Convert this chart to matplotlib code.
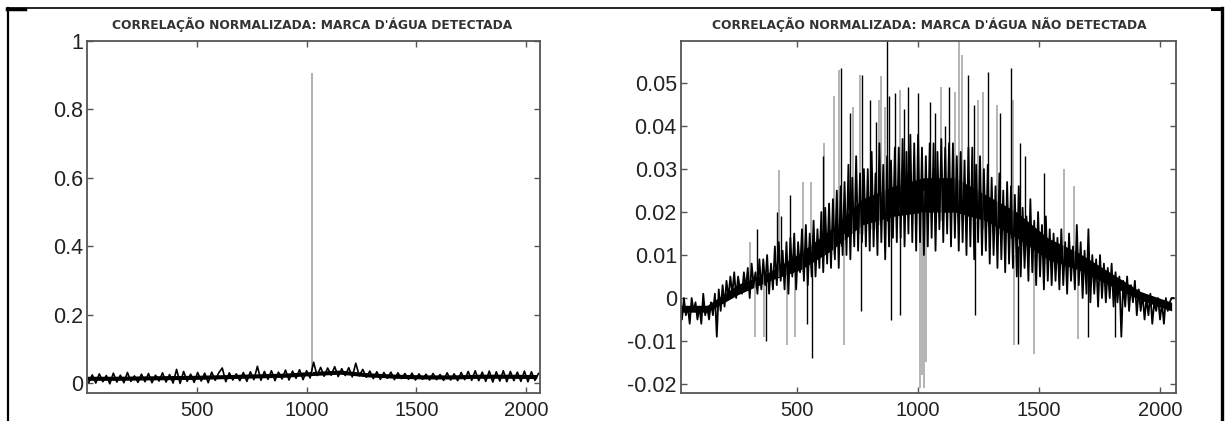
import numpy as np
import matplotlib
matplotlib.use("Agg")
import matplotlib.pyplot as plt
from matplotlib.lines import Line2D

# ---- data (sample index on x) ----
titles = ["CORRELAÇÃO NORMALIZADA: MARCA D'ÁGUA DETECTADA",
          "CORRELAÇÃO NORMALIZADA: MARCA D'ÁGUA NÃO DETECTADA"]

# left: correlation floor, one value every 16 samples starting at 8
left_start, left_step = 8, 16
left_values = [
    0.002, 0.024, 0.000, 0.027, 0.004, 0.022, -0.002, 0.029, 0.003, 0.023, 0.001, 0.031, 0.005, 0.021, 0.002, 0.026,
    0.004, 0.028, 0.001, 0.023, 0.006, 0.030, 0.003, 0.025, 0.000, 0.040, -0.001, 0.034, 0.005, 0.026, 0.002, 0.031,
    0.006, 0.029, 0.001, 0.032, 0.008, 0.030, 0.044, 0.004, 0.030, 0.009, 0.027, 0.007, 0.031, 0.005, 0.033, 0.010,
    0.049, 0.008, 0.034, 0.011, 0.036, 0.007, 0.032, 0.012, 0.038, 0.009, 0.035, 0.014, 0.039, 0.010, 0.036, 0.015,
    0.061, 0.022, 0.046, 0.020, 0.044, 0.023, 0.048, 0.019, 0.042, 0.022, 0.045, 0.018, 0.058, 0.021, 0.040, 0.017,
    0.035, 0.013, 0.033, 0.011, 0.031, 0.014, 0.032, 0.010, 0.030, 0.013, 0.028, 0.011, 0.029, 0.009, 0.027, 0.011,
    0.026, 0.009, 0.028, 0.010, 0.025, 0.008, 0.030, 0.009, 0.027, 0.007, 0.031, 0.010, 0.034, 0.008, 0.036, 0.007,
    0.032, 0.005, 0.035, 0.003, 0.033, 0.006, 0.036, 0.004, 0.034, 0.007, 0.032, 0.005, 0.035, 0.004, 0.033, 0.008,
    0.028,
]
# dense core of each trace, every 128 samples
core_x = [0, 128, 256, 384, 512, 640, 768, 896, 1024, 1152, 1280, 1408, 1536, 1664, 1792, 1920, 2048]
left_core_lo = [0.008, 0.008, 0.009, 0.010, 0.011, 0.013, 0.015, 0.017, 0.022, 0.026, 0.018, 0.014, 0.012, 0.012, 0.014, 0.014, 0.013]
left_core_hi = [0.020, 0.020, 0.021, 0.022, 0.023, 0.025, 0.027, 0.029, 0.034, 0.038, 0.030, 0.026, 0.024, 0.024, 0.026, 0.026, 0.025]
# the detection peak (drawn lighter, as in the scan)
left_peak_x = [1024]
left_peak_lo = [0.030]
left_peak_hi = [0.905]

# right: one value every 8 samples starting at 16
right_start, right_step = 16, 8
right_values = [
    -0.001, -0.005, 0.000, -0.004, -0.002, -0.006, 0.000, -0.003, -0.001, -0.005, -0.002, -0.006, 0.001, -0.004, -0.002, -0.005,
    -0.001, -0.004, 0.001, -0.009, 0.002, -0.003, 0.003, -0.002, 0.004, 0.000, 0.005, 0.001, 0.006, 0.000, 0.005, 0.002,
    0.001, 0.006, 0.002, 0.007, 0.000, 0.008, 0.003, 0.006, 0.001, 0.009, 0.002, 0.009, 0.003, 0.010, 0.001, 0.008,
    0.002, 0.012, 0.003, 0.013, 0.004, 0.011, 0.002, 0.013, 0.001, 0.014, 0.005, 0.015, 0.002, 0.013, 0.006, 0.016,
    0.004, 0.017, 0.003, 0.015, 0.005, 0.018, 0.005, 0.016, 0.007, 0.020, 0.006, 0.021, 0.008, 0.022, 0.007, 0.023,
    0.009, 0.025, 0.007, 0.026, 0.010, 0.027, 0.010, 0.031, 0.009, 0.028, 0.012, 0.033, 0.011, 0.029, 0.013, 0.030,
    0.012, 0.030, 0.011, 0.034, 0.012, 0.029, 0.010, 0.036, 0.013, 0.031, 0.009, 0.033, 0.012, 0.032, 0.014, 0.035,
    0.013, 0.035, 0.014, 0.037, 0.012, 0.034, 0.015, 0.038, 0.013, 0.036, 0.011, 0.038, 0.013, 0.035, 0.010, 0.033,
    0.012, 0.036, 0.014, 0.036, 0.011, 0.034, 0.016, 0.037, 0.013, 0.035, 0.015, 0.036, 0.012, 0.036, 0.014, 0.033,
    0.011, 0.034, 0.013, 0.032, 0.010, 0.035, 0.012, 0.035, 0.009, 0.031, 0.013, 0.033, 0.010, 0.030, 0.011, 0.031,
    0.008, 0.028, 0.010, 0.026, 0.007, 0.029, 0.009, 0.025, 0.006, 0.027, 0.008, 0.026, 0.007, 0.024, 0.005, 0.026,
    0.005, 0.021, 0.007, 0.019, 0.004, 0.023, 0.006, 0.018, 0.003, 0.020, 0.005, 0.017, 0.002, 0.019, 0.004, 0.016,
    0.003, 0.015, 0.004, 0.014, 0.002, 0.016, 0.003, 0.013, 0.001, 0.015, 0.004, 0.012, 0.002, 0.017, 0.003, 0.013,
    0.000, 0.011, 0.001, 0.016, -0.001, 0.010, 0.001, 0.009, -0.002, 0.010, 0.000, 0.008, -0.001, 0.007, 0.000, 0.008,
    -0.002, 0.006, -0.001, 0.005, -0.009, 0.004, -0.002, 0.005, -0.003, 0.003, -0.001, 0.004, -0.004, 0.002, -0.003, 0.001,
    -0.005, 0.000, -0.004, 0.001, -0.006, -0.001, -0.003, 0.000, -0.005, -0.001, -0.006, 0.000, -0.003, -0.001, 0.000, 0.000,
]
right_core_lo = [-0.0033, -0.0033, 0.0008, 0.004, 0.0065, 0.011, 0.017, 0.019, 0.020, 0.020, 0.018, 0.014, 0.009, 0.0065, 0.003, -0.0005, -0.003]
right_core_hi = [-0.0017, -0.0017, 0.0032, 0.006, 0.0105, 0.016, 0.023, 0.026, 0.028, 0.028, 0.024, 0.020, 0.014, 0.0105, 0.006, 0.0015, -0.001]
# dark single-sample spikes
right_black_x = [336, 371, 416, 432, 472, 540, 560, 608, 680, 720, 766, 768, 800, 824, 872, 880, 888, 904,
                 927, 940, 960, 1000, 1048, 1070, 1110, 1128, 1208, 1230, 1234, 1288, 1340, 1384, 1411,
                 1420, 1440, 1520, 1702, 1815]
right_black_lo = [0.004, -0.010, 0.006, 0.006, 0.007, -0.006, -0.014, 0.010, 0.012, 0.015, -0.003, 0.015, 0.016, 0.016, 0.018, 0.018, -0.005, 0.020,
                  -0.004, 0.020, 0.020, 0.020, 0.020, 0.020, 0.020, 0.020, 0.019, 0.018, -0.004, 0.017, 0.015, 0.014, -0.0106,
                  0.012, 0.012, 0.008, -0.009, -0.009]
right_black_hi = [0.016, 0.005, 0.020, 0.019, 0.024, 0.008, 0.010, 0.033, 0.0535, 0.043, 0.015, 0.052, 0.046, 0.041, 0.0598, 0.047, 0.020, 0.0477,
                  0.018, 0.044, 0.049, 0.0477, 0.0455, 0.043, 0.040, 0.049, 0.052, 0.045, 0.018, 0.0526, 0.043, 0.0535, 0.012,
                  0.036, 0.033, 0.029, 0.006, 0.003]
# lighter single-sample spikes
right_gray_x = [306, 327, 363, 427, 460, 492, 524, 556, 613, 653, 674, 694, 731, 758, 837, 847, 865, 926,
                1008, 1016, 1024, 1032, 1095, 1153, 1170, 1181, 1248, 1269, 1326, 1392, 1395, 1479,
                1605, 1645, 1661]
right_gray_lo = [0.004, -0.009, -0.009, 0.005, -0.011, -0.009, 0.006, 0.007, 0.010, 0.010, 0.010, -0.011, 0.015, 0.015, 0.017, 0.017, 0.018, 0.020,
                 -0.021, -0.018, -0.021, -0.015, 0.018, 0.018, 0.018, 0.018, 0.016, 0.016, 0.014, 0.012, -0.011, -0.013,
                 0.008, 0.008, -0.0095]
right_gray_hi = [0.013, 0.004, 0.006, 0.0297, 0.008, 0.006, 0.027, 0.027, 0.036, 0.047, 0.053, 0.015, 0.0445, 0.052, 0.046, 0.0517, 0.0445, 0.0485,
                 0.020, 0.020, 0.025, 0.020, 0.049, 0.048, 0.0598, 0.0565, 0.046, 0.048, 0.045, 0.046, 0.010, 0.010,
                 0.030, 0.026, 0.007]

xticks = [500, 1000, 1500, 2000]
xlabels = ['500', '1000', '1500', '2000']
left_yticks = [0, 0.2, 0.4, 0.6, 0.8, 1]
left_ylabels = ['0', '0.2', '0.4', '0.6', '0.8', '1']
right_yticks = [-0.02, -0.01, 0, 0.01, 0.02, 0.03, 0.04, 0.05]
right_ylabels = ['-0.02', '-0.01', '0', '0.01', '0.02', '0.03', '0.04', '0.05']

W, H = 1226, 421
fig = plt.figure(figsize=(W / 100, H / 100), dpi=100)
fig.patch.set_facecolor('white')

def px_rect(x0, y0, x1, y1):
    return [x0 / W, 1 - y1 / H, (x1 - x0) / W, (y1 - y0) / H]

ax1 = fig.add_axes(px_rect(87, 41, 540, 393))
ax2 = fig.add_axes(px_rect(681, 41, 1176, 393))

lx = left_start + left_step * np.arange(len(left_values))
ax1.vlines(left_peak_x, left_peak_lo, left_peak_hi, color='#9a9a9a', lw=1.1)
ax1.fill_between(core_x, left_core_lo, left_core_hi, color='black', lw=0)
ax1.plot(lx, left_values, color='black', lw=1.2)
ax1.set_xlim(0, 2063)
ax1.set_ylim(-0.029, 1.0)
ax1.set_yticks(left_yticks)
ax1.set_yticklabels(left_ylabels)

rx = right_start + right_step * np.arange(len(right_values))
ax2.vlines(right_gray_x, right_gray_lo, right_gray_hi, color='#a0a0a0', lw=1.1)
ax2.fill_between(core_x, right_core_lo, right_core_hi, color='black', lw=0)
ax2.plot(rx, right_values, color='black', lw=1.3)
ax2.vlines(right_black_x, right_black_lo, right_black_hi, color='black', lw=1.0)
ax2.set_xlim(20, 2066)
ax2.set_ylim(-0.0221, 0.0598)
ax2.set_yticks(right_yticks)
ax2.set_yticklabels(right_ylabels)

for ax in (ax1, ax2):
    ax.set_xticks(xticks)
    ax.set_xticklabels(xlabels)
    ax.tick_params(direction='in', top=True, right=True, length=4, width=1,
                   color='#555555', labelcolor='#222222')
    ax.tick_params(axis='x', pad=5.5, labelsize=14.5)
    ax.tick_params(axis='y', pad=3, labelsize=15.5)
    for lab in ax.get_xticklabels() + ax.get_yticklabels():
        lab.set_fontfamily('Liberation Sans')
    for sp in ax.spines.values():
        sp.set_color('#555555')
        sp.set_linewidth(1.3)

# titles above each panel
fig.text(312 / W, 1 - 24 / H, titles[0], ha='center', va='center',
         fontsize=8.85, fontweight='bold', color='#333333', family='DejaVu Sans')
fig.text(929 / W, 1 - 24 / H, titles[1], ha='center', va='center',
         fontsize=8.85, fontweight='bold', color='#333333', family='DejaVu Sans')

# page frame from the scan
def frame(xs, ys, lw):
    fig.add_artist(Line2D([x / W for x in xs], [1 - y / H for y in ys],
                          transform=fig.transFigure, color='black', lw=lw))

frame([7, 1222], [8, 8], 1.2)
frame([7, 25], [9, 9], 2.5)
frame([7.5, 7.5], [8, 421], 1.6)
frame([1222, 1222], [8, 421], 2.4)
frame([1212, 1222], [9, 9], 2.2)

fig.savefig('out.png', dpi=100)
